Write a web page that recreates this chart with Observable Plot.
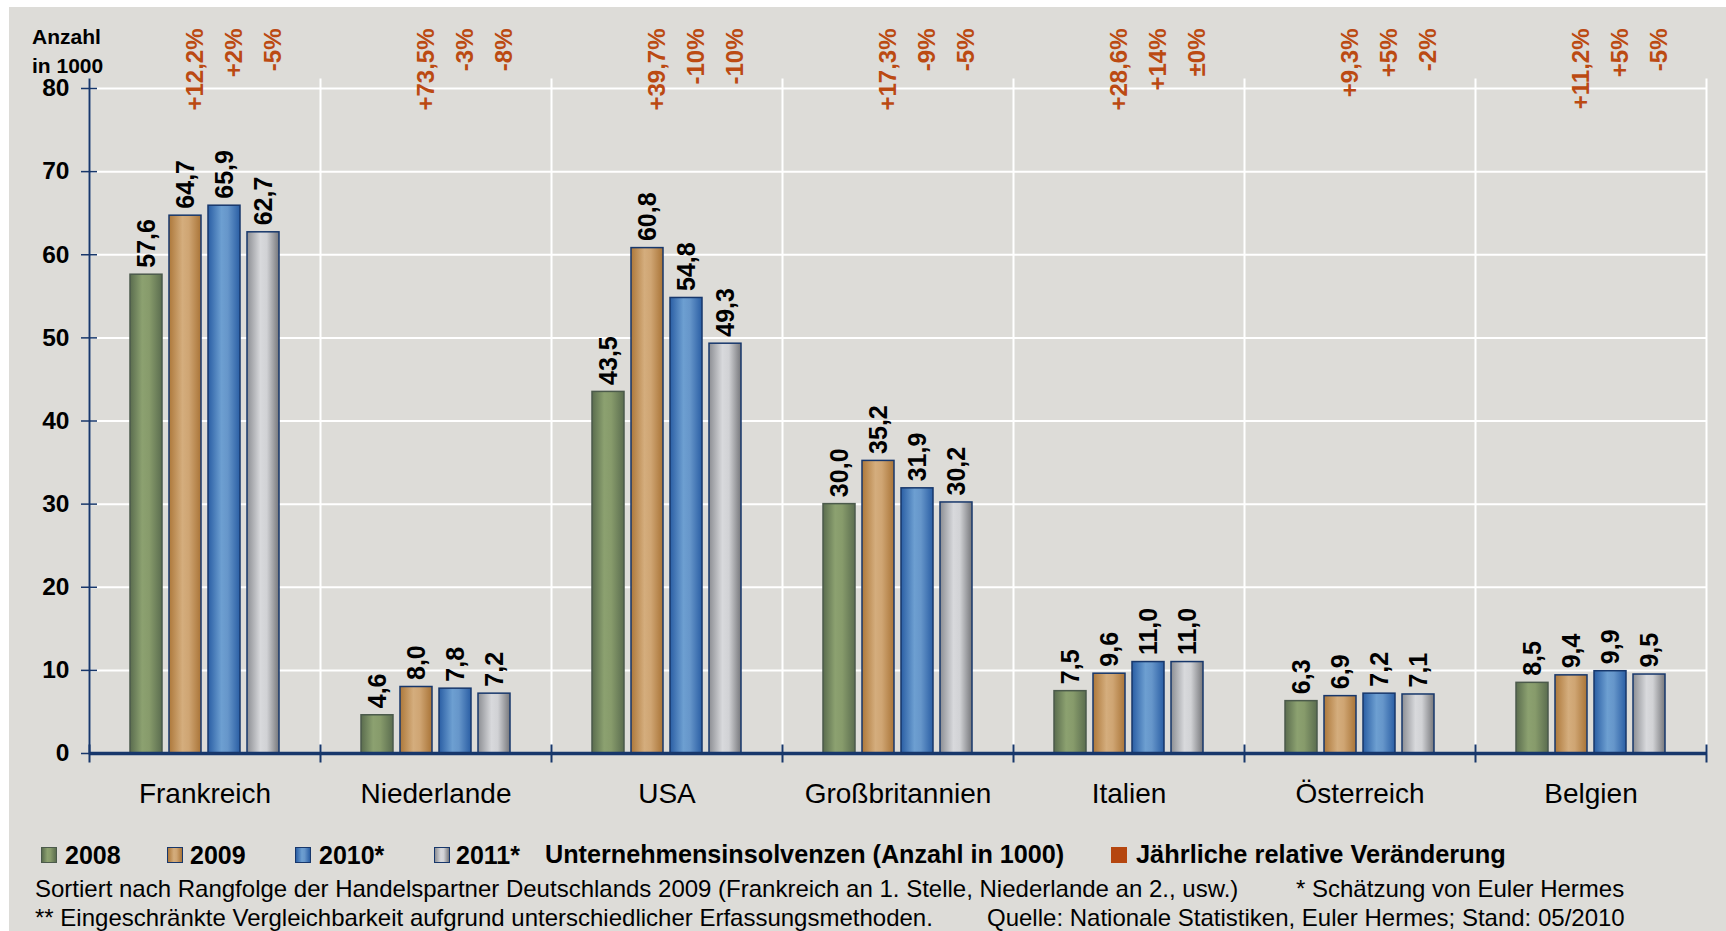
<!DOCTYPE html>
<html>
<head>
<meta charset="utf-8">
<script src="https://cdn.jsdelivr.net/npm/d3@7"></script>
<script src="https://cdn.jsdelivr.net/npm/@observablehq/plot@0.6"></script>
<style>
  html, body { margin: 0; padding: 0; background: #ffffff; }
  body { width: 1726px; height: 931px; overflow: hidden; position: relative; font-family: "Liberation Sans", Arial, sans-serif; }
  #panel { position: absolute; left: 9px; top: 7px; width: 1717px; height: 924px; background: #dddcd8; }
  #chart { position: absolute; left: 0; top: 0; }
  .t { position: absolute; white-space: nowrap; line-height: 1; transform: translateY(-50%); color: #000; }
  .b { font-weight: bold; }
  .sq { position: absolute; width: 14px; height: 14px; transform: translateY(-50%); }
</style>
</head>
<body>
<div id="panel">
  <div id="chart"></div>
  <div class="t b" style="left:23px; top:29px; font-size:21px;">Anzahl</div>
  <div class="t b" style="left:23px; top:58px; font-size:21px;">in 1000</div>
  <div id="legend"></div>
  <div class="t" style="left:26px; top:882px; font-size:24px;">Sortiert nach Rangfolge der Handelspartner Deutschlands 2009 (Frankreich an 1. Stelle, Niederlande an 2., usw.)</div>
  <div class="t" style="left:1287px; top:882px; font-size:24px;">* Schätzung von Euler Hermes</div>
  <div class="t" style="left:26px; top:911px; font-size:24px;">** Eingeschränkte Vergleichbarkeit aufgrund unterschiedlicher Erfassungsmethoden.</div>
  <div class="t" style="left:978px; top:911px; font-size:24px;">Quelle: Nationale Statistiken, Euler Hermes; Stand: 05/2010</div>
</div>
<script>
// ---- data ----
const countries = ["Frankreich", "Niederlande", "USA", "Großbritannien", "Italien", "Österreich", "Belgien"];
const years = ["2008", "2009", "2010*", "2011*"];
const values2008 = [57.6, 4.6, 43.5, 30.0, 7.5, 6.3, 8.5];
const values2009 = [64.7, 8.0, 60.8, 35.2, 9.6, 6.9, 9.4];
const values2010 = [65.9, 7.8, 54.8, 31.9, 11.0, 7.2, 9.9];
const values2011 = [62.7, 7.2, 49.3, 30.2, 11.0, 7.1, 9.5];
const change2009 = ["+12,2%", "+73,5%", "+39,7%", "+17,3%", "+28,6%", "+9,3%", "+11,2%"];
const change2010 = ["+2%", "-3%", "-10%", "-9%", "+14%", "+5%", "+5%"];
const change2011 = ["-5%", "-8%", "-10%", "-5%", "±0%", "-2%", "-5%"];
const yTicks = [0, 10, 20, 30, 40, 50, 60, 70, 80];
const legendSeries = "Unternehmensinsolvenzen (Anzahl in 1000)";
const legendChange = "Jährliche relative Veränderung";

// ---- styles ----
const navy = "#17376b";
const orange = "#bb4a12";
const gradStops = [
  [["0%", "#5a6c4e"], ["38%", "#8ca170"], ["60%", "#879b6b"], ["100%", "#5b6d4f"]],
  [["0%", "#ad783a"], ["42%", "#d4ad7d"], ["62%", "#cfa573"], ["100%", "#a97437"]],
  [["0%", "#2a5ea4"], ["42%", "#6d9fd1"], ["62%", "#6696ca"], ["100%", "#2a5ea4"]],
  [["0%", "#8c8e93"], ["42%", "#d8d9dc"], ["62%", "#d1d2d5"], ["100%", "#76777b"]]
];
const barStroke = ["#4b5a4b", navy, navy, navy];

// ---- table ----
const series = [values2008, values2009, values2010, values2011];
const changes = [null, change2009, change2010, change2011];
const rows = [];
countries.forEach((c, i) => years.forEach((yr, j) => rows.push({
  country: c, year: yr, yi: j, value: series[j][i], change: changes[j] ? changes[j][i] : null
})));
const fmt = v => d3.format(".1f")(v).replace(".", ",");

const chart = Plot.plot({
  width: 1717,
  height: 815,
  marginTop: 72,
  marginRight: 18,
  marginBottom: 69,
  marginLeft: 77,
  style: {background: "transparent", fontFamily: "'Liberation Sans', Arial, sans-serif", overflow: "visible"},
  fx: {domain: countries, padding: 0, label: null},
  x: {domain: years, paddingInner: 0.167, paddingOuter: 1.0, axis: null},
  y: {domain: [0, 80], insetTop: 9, axis: null},
  color: {domain: years, range: years.map((_, j) => `url(#grad${j})`)},
  marks: [
    Plot.ruleY(yTicks.filter(t => t > 0), {stroke: "#ffffff", strokeWidth: 2}),
    Plot.frame({anchor: "left", stroke: "#ffffff", strokeWidth: 2}),
    Plot.frame({anchor: "right", stroke: "#ffffff", strokeWidth: 2, facetAnchor: "right"}),
    Plot.barY(rows, {fx: "country", x: "year", y: "value", fill: "year", stroke: d => barStroke[d.yi], strokeWidth: 1.5}),
    Plot.text(rows, {fx: "country", x: "year", y: "value", text: d => fmt(d.value), rotate: -90, textAnchor: "start", dy: -7, fontSize: 25, fontWeight: "bold", fill: "#000000"}),
    Plot.text(rows.filter(d => d.change), {fx: "country", x: "year", text: "change", frameAnchor: "top", rotate: -90, textAnchor: "end", dy: -51, fontSize: 24, fontWeight: "bold", fill: orange}),
    Plot.ruleY([0], {stroke: navy, strokeWidth: 3.5}),
    Plot.frame({anchor: "left", stroke: navy, strokeWidth: 2, facetAnchor: "left"}),
    Plot.frame({anchor: "left", stroke: navy, strokeWidth: 2, insetTop: 666, insetBottom: -8}),
    Plot.frame({anchor: "right", stroke: navy, strokeWidth: 2, insetTop: 666, insetBottom: -8, facetAnchor: "right"}),
    Plot.axisY({ticks: yTicks, tickSize: 16, dx: 8, tickPadding: 12, stroke: navy, strokeWidth: 1.5, fill: "#000000", fontSize: 24.5, fontWeight: "bold", label: null, tickFormat: d => String(d)}),
    Plot.axisFx({anchor: "bottom", tickSize: 0, tickPadding: 30, fontSize: 28, fill: "#000000", label: null})
  ]
});

// gradients
const defs = d3.select(chart).insert("defs", ":first-child");
gradStops.forEach((stops, j) => {
  const g = defs.append("linearGradient").attr("id", `grad${j}`).attr("x1", "0").attr("x2", "1").attr("y1", "0").attr("y2", "0");
  stops.forEach(([o, c]) => g.append("stop").attr("offset", o).attr("stop-color", c));
});
document.getElementById("chart").appendChild(chart);

// legend (HTML below the svg)
const legend = document.getElementById("legend");
const legendY = 848;
const sqX = [32, 158, 286, 425];
const txX = [56, 181, 310, 447];
years.forEach((yr, j) => {
  const sq = document.createElement("div");
  sq.className = "sq";
  sq.style.left = sqX[j] + "px";
  sq.style.top = legendY + "px";
  sq.style.border = "1.5px solid " + barStroke[j];
  sq.style.background = "linear-gradient(to right," + gradStops[j].map(([o, c]) => c + " " + o).join(",") + ")";
  legend.appendChild(sq);
  const t = document.createElement("div");
  t.className = "t b";
  t.style.left = txX[j] + "px";
  t.style.top = legendY + "px";
  t.style.fontSize = "25px";
  t.textContent = yr;
  legend.appendChild(t);
});
const ls = document.createElement("div");
ls.className = "t b"; ls.style.left = "536px"; ls.style.top = legendY + "px"; ls.style.fontSize = "25.2px";
ls.textContent = legendSeries;
legend.appendChild(ls);
const osq = document.createElement("div");
osq.className = "sq"; osq.style.left = "1102px"; osq.style.top = legendY + "px";
osq.style.width = "16px"; osq.style.height = "16px"; osq.style.background = "#b5460f";
legend.appendChild(osq);
const lc = document.createElement("div");
lc.className = "t b"; lc.style.left = "1127px"; lc.style.top = legendY + "px"; lc.style.fontSize = "25.4px";
lc.textContent = legendChange;
legend.appendChild(lc);
</script>
</body>
</html>
